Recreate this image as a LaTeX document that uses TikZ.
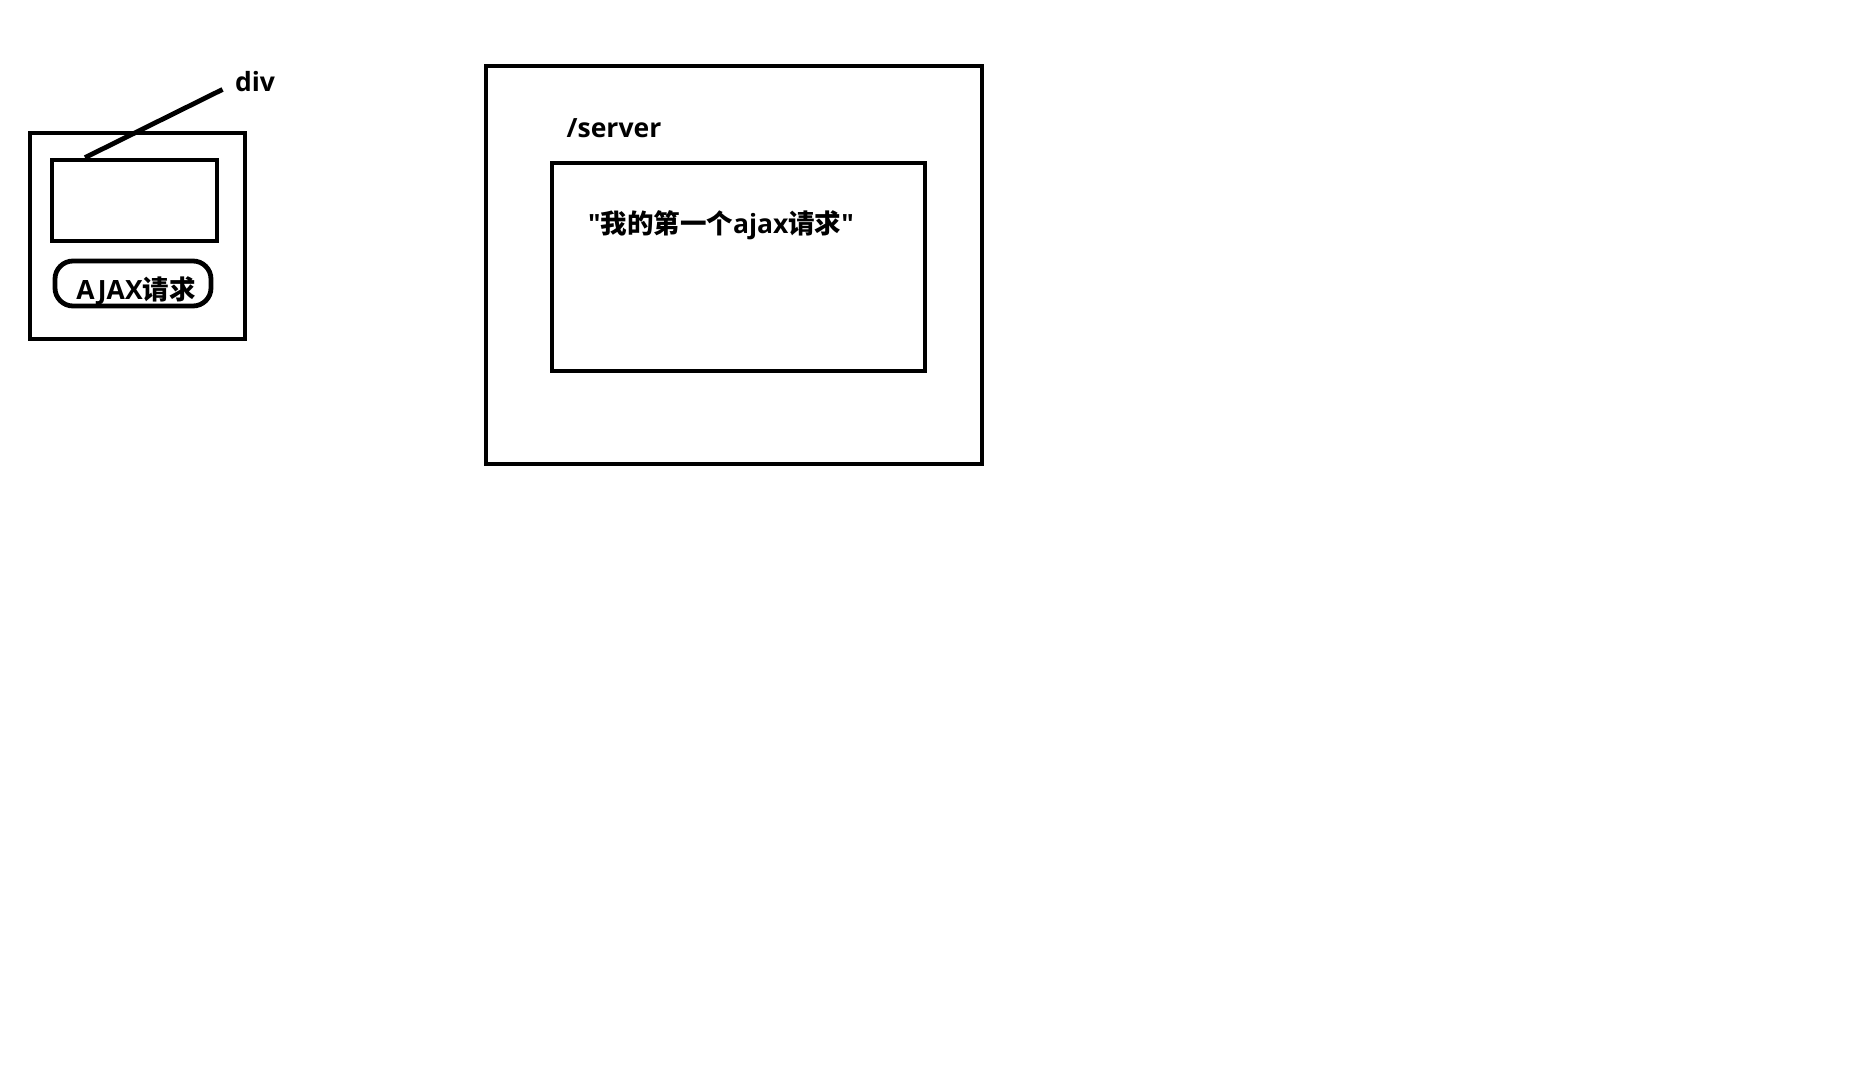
\documentclass[tikz,border=0pt]{standalone}
\usepackage{fontspec}
\newfontfamily\latin{Open Sans}
\newfontfamily\cjk{Noto Sans CJK SC}
\usetikzlibrary{positioning}

\begin{document}
\begin{tikzpicture}[x=1pt, y=-1pt, box/.style={draw, line width=4.8pt, inner sep=0pt}, every node/.style={font=\latin\bfseries\fontsize{26.5}{30}\selectfont}]

    \useasboundingbox (0,0) rectangle (1854,1090); % page size

    % Define the page (left)
    \node[box, minimum width=215pt, minimum height=206pt] (page) at (137.5,236) {};
    \node[box, minimum width=165pt, minimum height=81pt] (divbox) at (134.5,200.5) {}; % the div
    \node[box, rounded corners=18pt, minimum width=156pt, minimum height=45pt] (btn) at (133,283.5) {};
    \node (btntext) at (136,291) {AJAX{\cjk 请求}};
    \node (divlbl) at (255,82) {div};
    \coordinate (hook) at ([xshift=-49.5pt]divbox.north);
    \draw[line width=4.8pt, shorten >=10pt] (hook) -- ([yshift=-3pt]divlbl.west);

    % Define the server (right)
    \node[box, minimum width=496pt, minimum height=398pt] (server) at (734,265) {};
    \node[box, minimum width=373pt, minimum height=208pt] (resp) at (738.5,267) {}; % response
    \node (srvlbl) at (614,128) {/server};
    \node (resptext) at (721,225) {"{\cjk 我的第一个}ajax{\cjk 请求}"};
\end{tikzpicture}
\end{document}
